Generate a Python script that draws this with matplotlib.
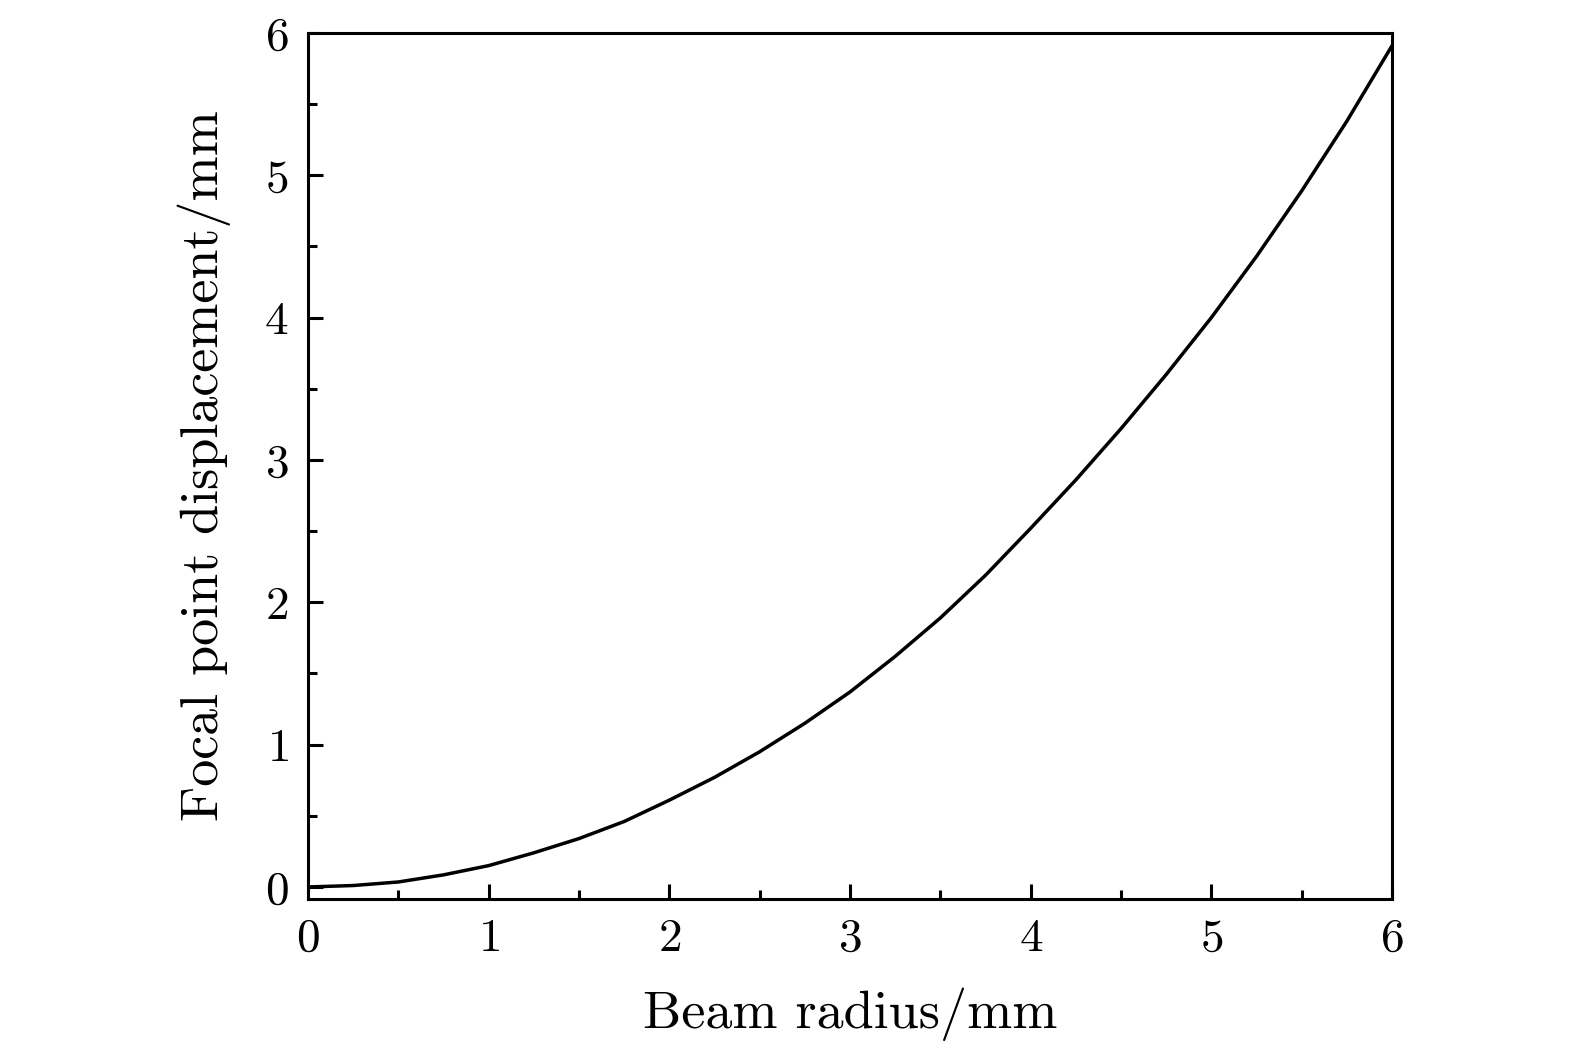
"""
Focal point displacement versus beam radius.
"""

import matplotlib
matplotlib.use("Agg")
import matplotlib.pyplot as plt
from matplotlib.ticker import MultipleLocator

# values
beam_radius = [0.0, 0.25, 0.5, 0.75, 1.0, 1.25, 1.5, 1.75, 2.0, 2.25, 2.5, 2.75,
               3.0, 3.25, 3.5, 3.75, 4.0, 4.25, 4.5, 4.75, 5.0, 5.25, 5.5, 5.75, 6.0]
focal_shift = [0.0, 0.01, 0.035, 0.085, 0.15, 0.24, 0.34, 0.46, 0.61, 0.77, 0.95, 1.15,
               1.37, 1.62, 1.89, 2.19, 2.52, 2.86, 3.22, 3.60, 4.00, 4.43, 4.89, 5.38, 5.91]

x_label = "Beam radius/mm"
y_label = "Focal point displacement/mm"

plt.rcParams['font.family'] = 'serif'
plt.rcParams['font.serif'] = ['cmr10']
plt.rcParams['mathtext.fontset'] = 'cm'
plt.rcParams['axes.formatter.use_mathtext'] = True

fig = plt.figure(figsize=(15.75, 10.53), dpi=100)
ax = fig.add_axes([0.1956, 0.1462, 0.6882, 0.8225])

ax.plot(beam_radius, focal_shift, color='black', linewidth=2.5,
        solid_joinstyle='round')

ax.set_xlim(0, 6)
ax.set_ylim(-0.085, 6)
ax.xaxis.set_major_locator(MultipleLocator(1))
ax.xaxis.set_minor_locator(MultipleLocator(0.5))
ax.yaxis.set_major_locator(MultipleLocator(1))
ax.yaxis.set_minor_locator(MultipleLocator(0.5))

ax.tick_params(which='both', direction='in', top=False, right=False, width=2.2)
ax.tick_params(which='major', length=11, labelsize=34, pad=14)
ax.tick_params(which='minor', length=6.5)

for spine in ax.spines.values():
    spine.set_linewidth(2.2)

ax.set_xlabel(x_label, fontsize=39, labelpad=20)
ax.set_ylabel(y_label, fontsize=39, labelpad=24)

fig.savefig("out.png", dpi=100)
